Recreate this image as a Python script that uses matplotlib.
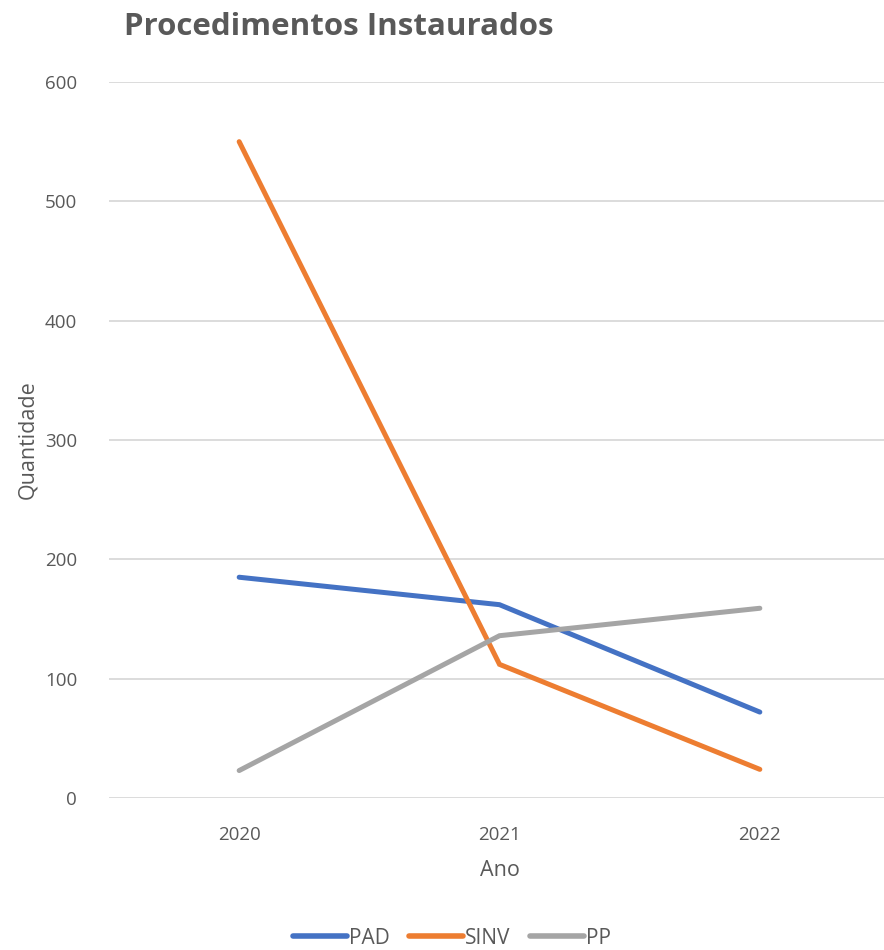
import matplotlib
matplotlib.use("Agg")
import matplotlib.pyplot as plt

years = ["2020", "2021", "2022"]
pad = [185, 162, 72]
sinv = [550, 112, 24]
pp = [23, 136, 159]
series_names = ["PAD", "SINV", "PP"]
series_colors = ["#4472C4", "#ED7D31", "#A5A5A5"]
y_ticks = [0, 100, 200, 300, 400, 500, 600]

plt.rcParams["font.family"] = ["Open Sans", "DejaVu Sans"]
text_color = "#595959"

fig = plt.figure(figsize=(8.84, 9.5), dpi=100)
ax = fig.add_axes([109 / 884, 152 / 950, 781 / 884, 716 / 950])

x = list(range(len(years)))
for values, name, color in zip([pad, sinv, pp], series_names, series_colors):
    ax.plot(x, values, color=color, lw=3.6, solid_capstyle="round",
            solid_joinstyle="miter", label=name, zorder=3)

ax.set_xlim(-0.5, len(years) - 0.5)
ax.set_ylim(0, 600)
ax.set_yticks(y_ticks)
ax.set_xticks(x)
ax.set_xticklabels(years)
ax.grid(axis="y", color="#D9D9D9", lw=1.3, zorder=0)
ax.set_axisbelow(True)
for s in ax.spines.values():
    s.set_visible(False)
ax.tick_params(axis="both", length=0, colors=text_color, labelsize=13.5)
ax.tick_params(axis="y", pad=23)
ax.tick_params(axis="x", pad=20)

ax.set_xlabel("Ano", fontsize=15.5, color=text_color, labelpad=12)
fig.text(28 / 884, 1 - 440 / 950, "Quantidade", rotation=90, fontsize=15.5,
         color=text_color, ha="center", va="center")
fig.text(124 / 884, 1 - 27 / 950, "Procedimentos Instaurados", fontsize=22.5,
         fontweight="bold", color=text_color, ha="left", va="center")

leg = fig.legend(loc="center", bbox_to_anchor=(452 / 884, 1 - 938 / 950),
                 ncol=3, frameon=False, fontsize=15, handlelength=2.6,
                 handletextpad=0.1, columnspacing=0.9)
for t in leg.get_texts():
    t.set_color(text_color)
for h in leg.get_lines():
    h.set_linewidth(4)
    h.set_solid_capstyle("round")

fig.savefig("out.png", dpi=100, facecolor="white")
